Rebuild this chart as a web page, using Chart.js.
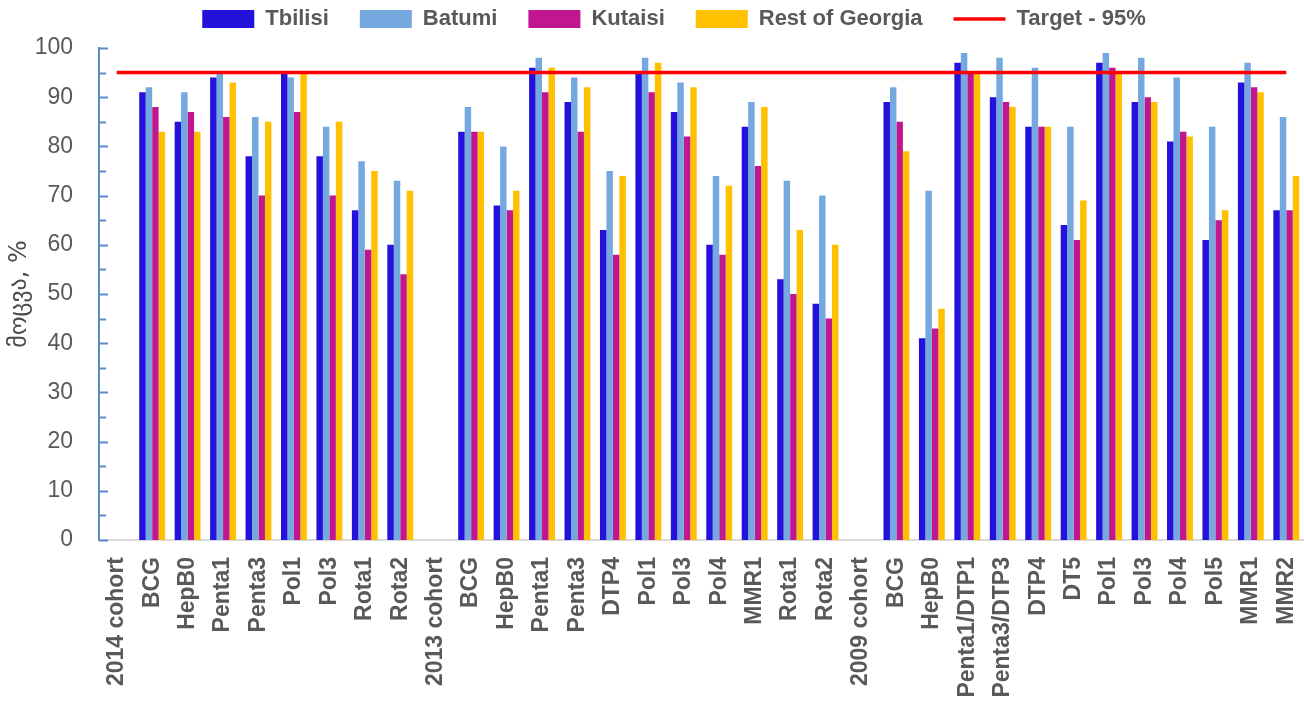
<!DOCTYPE html>
<html>
<head>
<meta charset="utf-8">
<script src="https://cdn.jsdelivr.net/npm/chart.js@4.4.1/dist/chart.umd.min.js"></script>
<style>
  html, body { margin: 0; padding: 0; background: #ffffff; }
  #wrap { width: 1304px; height: 704px; position: relative; }
</style>
</head>
<body>
<div id="wrap"><canvas id="chart"></canvas></div>
<script>
// Vaccine coverage (%) by city, grouped by birth cohort
const categories = [
  '2014 cohort', 'BCG', 'HepB0', 'Penta1', 'Penta3', 'Pol1', 'Pol3', 'Rota1', 'Rota2',
  '2013 cohort', 'BCG', 'HepB0', 'Penta1', 'Penta3', 'DTP4', 'Pol1', 'Pol3', 'Pol4', 'MMR1', 'Rota1', 'Rota2',
  '2009 cohort', 'BCG', 'HepB0', 'Penta1/DTP1', 'Penta3/DTP3', 'DTP4', 'DT5', 'Pol1', 'Pol3', 'Pol4', 'Pol5', 'MMR1', 'MMR2'
];

const tbilisi = [
  null, 91, 85, 94, 78, 95, 78, 67, 60,
  null, 83, 68, 96, 89, 63, 95, 87, 60, 84, 53, 48,
  null, 89, 41, 97, 90, 84, 64, 97, 89, 81, 61, 93, 67
];
const batumi = [
  null, 92, 91, 95, 86, 94, 84, 77, 73,
  null, 88, 80, 98, 94, 75, 98, 93, 74, 89, 73, 70,
  null, 92, 71, 99, 98, 96, 84, 99, 98, 94, 84, 97, 86
];
const kutaisi = [
  null, 88, 87, 86, 70, 87, 70, 59, 54,
  null, 83, 67, 91, 83, 58, 91, 82, 58, 76, 50, 45,
  null, 85, 43, 95, 89, 84, 61, 96, 90, 83, 65, 92, 67
];
const restOfGeorgia = [
  null, 83, 83, 93, 85, 95, 85, 75, 71,
  null, 83, 71, 96, 92, 74, 97, 92, 72, 88, 63, 60,
  null, 79, 47, 95, 88, 84, 69, 95, 89, 82, 67, 91, 74
];

const targetPercent = 95;
const targetLine = categories.map(() => targetPercent);

const yTickValues = [0, 10, 20, 30, 40, 50, 60, 70, 80, 90, 100];

const AXIS_BLUE = '#5B8BC8';
const TEXT_GREY = '#595959';

// Short tick marks drawn inside the plot, on the right of the value axis
const innerTicks = {
  id: 'innerTicks',
  afterDraw(chart) {
    const y = chart.scales.y;
    const ctx = chart.ctx;
    const x0 = chart.chartArea.left;
    ctx.save();
    ctx.strokeStyle = AXIS_BLUE;
    ctx.lineWidth = 2;
    for (let v = 0; v <= 100; v += 5) {
      const py = Math.round(y.getPixelForValue(v)) + 0.5;
      const len = v % 10 === 0 ? 9 : 7;
      ctx.beginPath();
      ctx.moveTo(x0, py);
      ctx.lineTo(x0 + len, py);
      ctx.stroke();
    }
    ctx.restore();
  }
};

// Fixed legend band height, and a small rightward nudge of the legend row
const legendBand = {
  id: 'legendBand',
  afterInit(chart) {
    const legend = chart.legend;
    if (!legend) return;
    const fit = legend.fit.bind(legend);
    legend.fit = function () {
      fit();
      this.height = 71;
    };
  },
  afterLayout(chart) {
    const legend = chart.legend;
    if (!legend) return;
    legend.left += 22;
    legend.right += 22;
  }
};

const barCommon = {
  type: 'bar',
  categoryPercentage: 0.73,
  barPercentage: 1.0,
  borderWidth: 0,
  order: 2
};

new Chart(document.getElementById('chart'), {
  data: {
    labels: categories,
    datasets: [
      Object.assign({ label: 'Tbilisi', data: tbilisi, backgroundColor: '#2311DC' }, barCommon),
      Object.assign({ label: 'Batumi', data: batumi, backgroundColor: '#76A8E0' }, barCommon),
      Object.assign({ label: 'Kutaisi', data: kutaisi, backgroundColor: '#C0178F' }, barCommon),
      Object.assign({ label: 'Rest of Georgia', data: restOfGeorgia, backgroundColor: '#FFC000' }, barCommon),
      {
        type: 'line',
        label: 'Target - 95%',
        data: targetLine,
        borderColor: '#FF0000',
        backgroundColor: '#FF0000',
        borderWidth: 3.5,
        pointRadius: 0,
        pointHoverRadius: 0,
        fill: false,
        order: 1
      }
    ]
  },
  options: {
    responsive: true,
    maintainAspectRatio: false,
    animation: false,
    layout: { padding: { top: -23, right: 0, bottom: 0, left: 0 } },
    plugins: {
      tooltip: { enabled: false },
      legend: {
        position: 'top',
        align: 'center',
        labels: {
          usePointStyle: true,
          pointStyleWidth: 52,
          boxHeight: 18,
          padding: 31,
          color: TEXT_GREY,
          font: { family: "'Liberation Sans', Arial, sans-serif", size: 22, weight: 'bold' },
          generateLabels(chart) {
            const items = Chart.defaults.plugins.legend.labels.generateLabels(chart);
            items.sort((a, b) => a.datasetIndex - b.datasetIndex);
            items.forEach(item => {
              const ds = chart.data.datasets[item.datasetIndex];
              if (ds.type === 'line') {
                item.pointStyle = 'line';
                item.lineWidth = 3.5;
                item.strokeStyle = '#FF0000';
              } else {
                item.pointStyle = 'rect';
                item.lineWidth = 0;
              }
            });
            return items;
          }
        }
      }
    },
    scales: {
      x: {
        offset: true,
        grid: { display: false, drawTicks: false },
        border: { display: true, color: '#D9D9D9', width: 2 },
        ticks: {
          autoSkip: false,
          maxRotation: 90,
          minRotation: 90,
          padding: 17,
          color: TEXT_GREY,
          font: { family: "'Liberation Sans', Arial, sans-serif", size: 23, weight: 'bold' }
        },
        afterFit(scale) {
          scale.height = 164;
          scale.paddingLeft = 0;
          scale.paddingRight = 0;
        }
      },
      y: {
        min: 0,
        max: 100,
        afterBuildTicks(scale) { scale.ticks = yTickValues.map(v => ({ value: v })); },
        grid: { display: false, drawTicks: false },
        border: { display: true, color: AXIS_BLUE, width: 2 },
        ticks: {
          padding: 26,
          color: TEXT_GREY,
          font: { family: "'Liberation Sans', Arial, sans-serif", size: 23 }
        },
        title: {
          display: true,
          text: 'მოცვა, %',
          color: '#4A4A4A',
          padding: { top: 5, bottom: 0 },
          font: { family: "'DejaVu Sans', sans-serif", size: 24 }
        },
        afterFit(scale) { scale.width = 99; }
      }
    }
  },
  plugins: [innerTicks, legendBand]
});
</script>
</body>
</html>
